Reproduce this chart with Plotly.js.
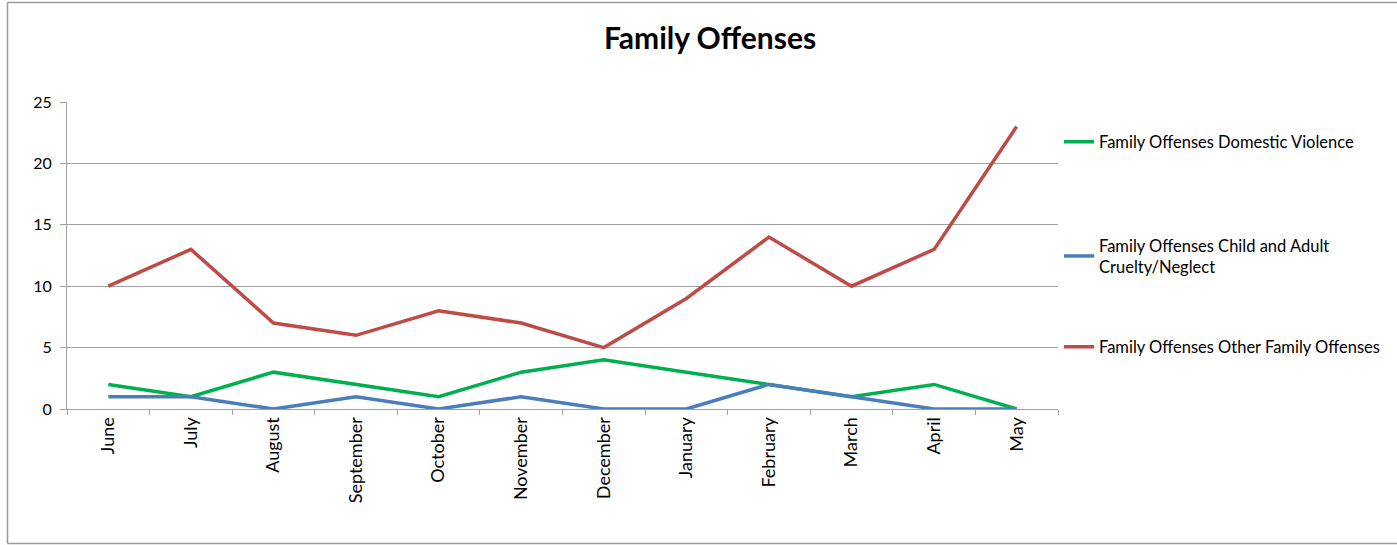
<!DOCTYPE html>
<html>
<head>
<meta charset="utf-8">
<script src="https://cdn.plot.ly/plotly-3.0.1.min.js"></script>
<style>
  html, body { margin: 0; padding: 0; background: #fff; overflow: hidden; }
  #chart { width: 1397px; height: 545px; }
</style>
</head>
<body>
<div id="chart"></div>
<script>
const months = ["June","July","August","September","October","November","December","January","February","March","April","May"];
const domesticViolence = [2,1,3,2,1,3,4,3,2,1,2,0];
const childAdultCruelty = [1,1,0,1,0,1,0,0,2,1,0,0];
const otherFamily = [10,13,7,6,8,7,5,9,14,10,13,23];

const seriesNames = [
  "Family Offenses Domestic Violence",
  "Family Offenses Child and Adult<br>Cruelty/Neglect",
  "Family Offenses Other Family Offenses"
];
const seriesColors = ["#00B050", "#4A7EBB", "#BE4B48"];

const FONT = "Lato, 'Open Sans', sans-serif";

const traces = [domesticViolence, childAdultCruelty, otherFamily].map((vals, i) => ({
  type: "scatter",
  mode: "lines",
  x: months,
  y: vals,
  name: seriesNames[i],
  line: { color: seriesColors[i], width: 3.5 },
  legend: i === 0 ? "legend" : "legend" + (i + 1),
  hoverinfo: "x+y+name"
}));

const L = 67, W = 991, T = 102, H = 307;
const legendBase = {
  xref: "container", yref: "container",
  x: 1059 / 1397, xanchor: "left", yanchor: "middle",
  font: { family: FONT, size: 16.5, color: "#000" },
  bgcolor: "rgba(0,0,0,0)", borderwidth: 0
};
const GRID = "#A0A0A0";
const BORDER = "#9A9A9A";
const bx0 = (7.5 - L) / W, bx1 = (1420 - L) / W;
const by0 = -(543.5 - T - H) / H, by1 = (T + H - 2.5) / H;

const layout = {
  width: 1397, height: 545,
  margin: { l: L, r: 1397 - L - W, t: T, b: 545 - T - H, pad: 0, autoexpand: false },
  paper_bgcolor: "#fff", plot_bgcolor: "#fff",
  font: { family: FONT, size: 15, color: "#000" },
  title: {
    text: "<b>Family Offenses</b>",
    font: { family: FONT, size: 30, color: "#000" },
    xref: "container", x: 710 / 1397, xanchor: "center",
    yref: "container", y: 1 - 38 / 545, yanchor: "middle"
  },
  showlegend: true,
  legend: Object.assign({}, legendBase, { y: 1 - 142 / 545 }),
  legend2: Object.assign({}, legendBase, { y: 1 - 256 / 545 }),
  legend3: Object.assign({}, legendBase, { y: 1 - 347 / 545 }),
  xaxis: {
    type: "category",
    range: [-0.5, 11.5],
    tickangle: -90,
    ticks: "outside", ticklen: 5, tickcolor: GRID, tickwidth: 1,
    tickson: "boundaries",
    showline: true, linecolor: GRID, linewidth: 1,
    showgrid: false, zeroline: false,
    tickfont: { family: FONT, size: 18, color: "#000" },
    automargin: false,
    fixedrange: true
  },
  yaxis: {
    range: [0, 25], dtick: 5, tick0: 0,
    ticks: "outside", ticklen: 6, tickcolor: GRID, tickwidth: 1,
    showline: true, linecolor: GRID, linewidth: 1,
    showgrid: true, gridcolor: GRID, gridwidth: 1,
    zeroline: false,
    tickfont: { family: FONT, size: 16, color: "#000" },
    ticklabelstandoff: 5,
    automargin: false,
    fixedrange: true
  },
  shapes: [
    { type: "line", xref: "paper", yref: "paper", x0: bx0, x1: bx0, y0: by0, y1: by1,
      line: { color: BORDER, width: 1.5 }, layer: "below" },
    { type: "line", xref: "paper", yref: "paper", x0: bx0, x1: bx1, y0: by1, y1: by1,
      line: { color: BORDER, width: 1.5 }, layer: "below" },
    { type: "line", xref: "paper", yref: "paper", x0: bx0, x1: bx1, y0: by0, y1: by0,
      line: { color: BORDER, width: 1.5 }, layer: "below" }
  ]
};

Plotly.newPlot("chart", traces, layout, { displayModeBar: false, responsive: false });
</script>
</body>
</html>
